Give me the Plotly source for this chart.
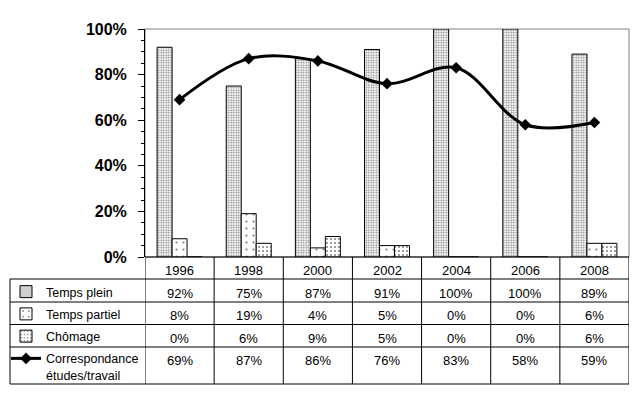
import plotly.graph_objects as go

years = ["1996", "1998", "2000", "2002", "2004", "2006", "2008"]
temps_plein = [0.92, 0.75, 0.87, 0.91, 1.00, 1.00, 0.89]
temps_partiel = [0.08, 0.19, 0.04, 0.05, 0.00, 0.00, 0.06]
chomage = [0.00, 0.06, 0.09, 0.05, 0.00, 0.00, 0.06]
correspondance = [0.69, 0.87, 0.86, 0.76, 0.83, 0.58, 0.59]

series_names = ["Temps plein", "Temps partiel", "Chômage", "Correspondance<br>études/travail"]
series_values = [temps_plein, temps_partiel, chomage, correspondance]

W, H = 639, 399
ML, MR, MT, MB = 145, 10, 29, 142
PW = W - ML - MR
PH = H - MT - MB

def py(ypix):
    return (H - MB - ypix) / PH

def px(xpix):
    return (xpix - ML) / PW

FONT = "Liberation Sans, Arial, sans-serif"

fig = go.Figure()

bar_styles = [
    dict(shape=".", size=2.5, solidity=0.4),
    dict(shape=".", size=7, solidity=0.08),
    dict(shape=".", size=4, solidity=0.2),
]
for i in range(3):
    fig.add_trace(go.Bar(
        x=years, y=series_values[i], name=series_names[i],
        legendgroup=f"g{i}",
        marker=dict(color="white", line=dict(color="black", width=1),
                    pattern=dict(fgcolor="black", bgcolor="white", **bar_styles[i])),
    ))

fig.add_trace(go.Scatter(
    x=years, y=correspondance, name=series_names[3], legendgroup="g3",
    mode="lines+markers",
    line=dict(color="black", width=3, shape="spline", smoothing=1),
    marker=dict(symbol="diamond", size=9, color="black"),
))

shapes = []
shapes.append(dict(type="rect", xref="paper", yref="paper", x0=0, x1=1, y0=0, y1=1,
                   line=dict(color="#808080", width=1), layer="below"))

row_lines = [279, 302, 324.5, 347, 384]
row_centers = [293, 315.5, 338, 360]
header_center = 270
n = len(years)
black = dict(color="black", width=1)
shapes.append(dict(type="line", xref="x", yref="paper", x0=-0.5, x1=n - 0.5,
                   y0=py(257), y1=py(257), line=black))
for yl in row_lines:
    shapes.append(dict(type="line", xref="paper", yref="paper", x0=px(10), x1=1,
                       y0=py(yl), y1=py(yl), line=black))
shapes.append(dict(type="line", xref="paper", yref="paper", x0=px(10), x1=px(10),
                   y0=py(279), y1=py(384), line=black))
for k in range(n + 1):
    shapes.append(dict(type="line", xref="x", yref="paper", x0=k - 0.5, x1=k - 0.5,
                       y0=py(257), y1=py(384), line=black))

cell_font = dict(size=13, family=FONT, color="black")
annotations = []
for k, yr in enumerate(years):
    annotations.append(dict(x=k, y=py(header_center), xref="x", yref="paper",
                            text=yr, showarrow=False, font=cell_font,
                            xanchor="center", yanchor="middle"))
for r, vals in enumerate(series_values):
    for k, v in enumerate(vals):
        annotations.append(dict(x=k, y=py(row_centers[r]), xref="x", yref="paper",
                                text=f"{round(v * 100)}%", showarrow=False,
                                font=cell_font, xanchor="center", yanchor="middle"))

fig.update_layout(
    width=W, height=H,
    margin=dict(l=ML, r=MR, t=MT, b=MB, pad=0, autoexpand=False),
    paper_bgcolor="white", plot_bgcolor="white",
    barmode="group", bargap=0.35, bargroupgap=0,
    shapes=shapes, annotations=annotations,
    font=dict(family=FONT, color="black"),
    legend=dict(x=px(6), y=py(277), xanchor="left", yanchor="top",
                traceorder="grouped", tracegroupgap=3, valign="top",
                font=dict(size=12.5, family=FONT, color="black"),
                bgcolor="rgba(0,0,0,0)", borderwidth=0),
    showlegend=True,
)
fig.update_xaxes(type="category", range=[-0.5, n - 0.5], showticklabels=False,
                 showline=False, ticks="", showgrid=False, zeroline=False)
fig.update_yaxes(range=[0, 1], dtick=0.2, tickformat=".0%", showgrid=False, zeroline=False,
                 showline=True, linecolor="black", linewidth=1,
                 ticks="outside", ticklen=6, tickcolor="black",
                 minor=dict(dtick=0.05, ticks="outside", ticklen=3, tickcolor="black"),
                 tickfont=dict(size=16, family=FONT, color="black", weight="bold"),
                 ticklabelstandoff=8)

fig.write_html("out.html", config={"displayModeBar": False},
               post_script="document.body.style.margin='0';")
